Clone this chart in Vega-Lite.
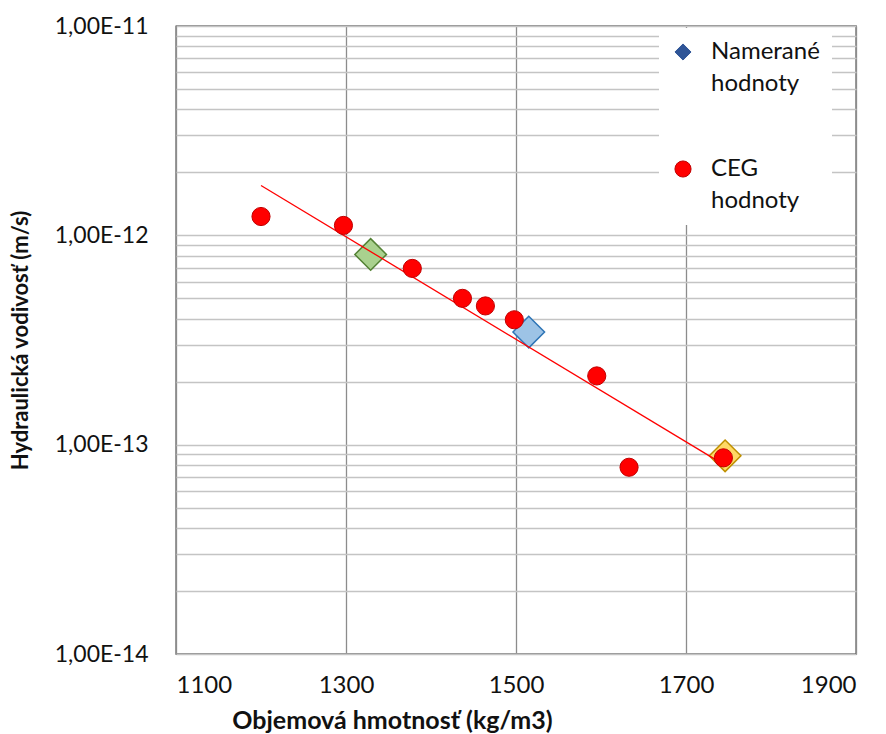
{
  "$schema": "https://vega.github.io/schema/vega-lite/v6.json",
  "autosize": {"type": "none"},
  "width": 680,
  "height": 628,
  "padding": {"left": 176, "top": 26, "right": 30, "bottom": 80},
  "background": "white",
  "config": {
    "font": "Lato",
    "view": {"stroke": "#262626", "strokeWidth": 1.3},
    "axis": {"labelFont": "Lato", "titleFont": "Lato", "labelColor": "#111", "titleColor": "#111", "domain": false, "ticks": false},
    "style": {"guide-label": {"lineHeight": 32}}
  },
  "datasets": {
    "ceg": [
      {"hustota": 1200, "k": 1.23e-12, "seria": "CEG hodnoty"},
      {"hustota": 1297, "k": 1.115e-12, "seria": "CEG hodnoty"},
      {"hustota": 1378, "k": 6.95e-13, "seria": "CEG hodnoty"},
      {"hustota": 1437, "k": 5.0e-13, "seria": "CEG hodnoty"},
      {"hustota": 1464, "k": 4.6e-13, "seria": "CEG hodnoty"},
      {"hustota": 1498, "k": 3.95e-13, "seria": "CEG hodnoty"},
      {"hustota": 1595, "k": 2.13e-13, "seria": "CEG hodnoty"},
      {"hustota": 1633, "k": 7.8e-14, "seria": "CEG hodnoty"},
      {"hustota": 1744, "k": 8.65e-14, "seria": "CEG hodnoty"}
    ],
    "merane": [
      {"hustota": 1329, "k": 8.1e-13, "seria": "Namerané hodnoty", "vzorka": "A"},
      {"hustota": 1515, "k": 3.45e-13, "seria": "Namerané hodnoty", "vzorka": "B"},
      {"hustota": 1746, "k": 8.85e-14, "seria": "Namerané hodnoty", "vzorka": "C"}
    ],
    "trend": [
      {"hustota": 1200, "k": 1.73e-12},
      {"hustota": 1744, "k": 8.05e-14}
    ]
  },
  "encoding": {
    "x": {
      "field": "hustota", "type": "quantitative",
      "scale": {"domain": [1100, 1900], "nice": false, "zero": false},
      "axis": {
        "title": "Objemová hmotnosť (kg/m3)",
        "values": [1100, 1300, 1500, 1700, 1900],
        "format": "d",
        "labelFontSize": 24, "labelPadding": 19,
        "titleFontSize": 25, "titleFontWeight": "bold", "titlePadding": 11,
        "titleX": 216, "titleAlign": "center",
        "gridColor": "#8c8c8c", "gridWidth": 1.3
      }
    },
    "y": {
      "field": "k", "type": "quantitative",
      "scale": {"type": "log", "domain": [1e-14, 1e-11], "nice": false},
      "axis": {
        "title": "Hydraulická vodivosť (m/s)",
        "values": [1e-14, 2e-14, 3e-14, 4e-14, 5e-14, 6e-14, 7e-14, 8e-14, 9e-14, 1e-13, 2e-13, 3e-13, 4e-13, 5e-13, 6e-13, 7e-13, 8e-13, 9e-13, 1e-12, 2e-12, 3e-12, 4e-12, 5e-12, 6e-12, 7e-12, 8e-12, 9e-12, 1e-11],
        "labelExpr": "abs(log(datum.value)/LN10 - round(log(datum.value)/LN10)) < 0.001 ? '1,00E-' + (-round(log(datum.value)/LN10)) : ''",
        "labelOverlap": false,
        "labelFontSize": 23, "labelPadding": 28,
        "titleFontSize": 22, "titleFontWeight": "bold", "titlePadding": 22,
        "gridColor": "#c4c4c4", "gridWidth": 1.3
      }
    }
  },
  "layer": [
    {
      "data": {"name": "merane"},
      "mark": {"type": "point", "filled": true, "size": 1000, "opacity": 1, "strokeWidth": 1.5},
      "encoding": {
        "shape": {
          "field": "seria", "type": "nominal",
          "scale": {"domain": ["Namerané hodnoty", "CEG hodnoty"], "range": ["diamond", "circle"]},
          "legend": {
            "title": null,
            "orient": "none",
            "legendX": 483,
            "legendY": 2,
            "fillColor": "white",
            "padding": 12,
            "symbolSize": 260,
            "symbolStrokeWidth": 1,
            "symbolOpacity": 1,
            "labelFont": "Lato",
            "labelFontSize": 24,
            "labelColor": "#111",
            "labelOffset": 16,
            "labelLimit": 300,
            "labelBaseline": "middle",
            "rowPadding": 61,
            "labelExpr": "split(datum.label, ' ')"
          }
        },
        "fill": {
          "condition": [
            {"test": "datum.vzorka === 'A'", "value": "#a9d18e"},
            {"test": "datum.vzorka === 'B'", "value": "#9dc3e6"},
            {"test": "datum.vzorka === 'C'", "value": "#ffd966"}
          ],
          "field": "seria", "type": "nominal",
          "scale": {"domain": ["Namerané hodnoty", "CEG hodnoty"], "range": ["#2f5597", "#ff0000"]}
        },
        "stroke": {
          "condition": [
            {"test": "datum.vzorka === 'A'", "value": "#548235"},
            {"test": "datum.vzorka === 'B'", "value": "#2e75b6"},
            {"test": "datum.vzorka === 'C'", "value": "#bf9000"}
          ],
          "field": "seria", "type": "nominal",
          "scale": {"domain": ["Namerané hodnoty", "CEG hodnoty"], "range": ["#2f5597", "#c00000"]}
        }
      }
    },
    {
      "data": {"name": "trend"},
      "mark": {"type": "line", "color": "#ff0000", "strokeWidth": 1.3},
      "encoding": {}
    },
    {
      "data": {"name": "ceg"},
      "mark": {"type": "point", "filled": true, "size": 330, "opacity": 1, "strokeWidth": 1},
      "encoding": {
        "shape": {"field": "seria", "type": "nominal"},
        "fill": {"field": "seria", "type": "nominal"},
        "stroke": {"field": "seria", "type": "nominal"}
      }
    }
  ]
}
